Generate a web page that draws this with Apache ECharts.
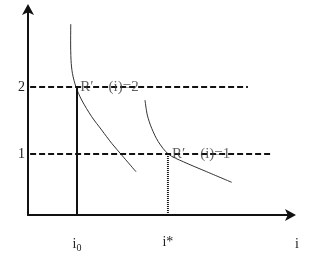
<!DOCTYPE html>
<html><head><meta charset="utf-8">
<script src="https://cdn.jsdelivr.net/npm/echarts@6/dist/echarts.min.js"></script>
<style>html,body{margin:0;padding:0;background:#fff}#c{width:322px;height:260px}</style>
</head><body><div id="c"></div>
<script>
// Data (arbitrary horizontal units i, vertical units R')
var i0 = 1.856;
var iStar = 5.30;
var yTickValues = [1, 2];
var curve1 = [[1.62,2.94],[1.615,2.70],[1.63,2.40],[1.685,2.20],[1.818,2.0],[2.034,1.806],[2.413,1.557],[2.792,1.358],[3.170,1.160],[3.549,0.985],[4.091,0.736]];
var curve2 = [[4.432,1.806],[4.519,1.582],[4.686,1.384],[4.936,1.184],[5.314,1.0],[5.883,0.885],[6.769,0.736],[7.716,0.578]];
var level2Line = [[0.08,2],[8.33,2]];
var level1Line = [[0.08,1],[9.17,1]];
var annotations = [
  {value:[1.98,2], text:'R\u2032    (i)=2'},
  {value:[5.45,1], text:'R\u2032    (i)=1'}
];
var xTickLabels = {};
xTickLabels[i0] = 'i{sub|0}';
xTickLabels[iStar] = 'i*';
var xMin = 0, xMax = 10, yMin = 0.09, yMax = 3.18;

var serif = '"Liberation Serif", "DejaVu Serif", serif';
var chart = echarts.init(document.getElementById('c'), null, {renderer:'canvas'});
chart.setOption({
  animation:false,
  backgroundColor:'#fff',
  grid:{left:28, right:30, top:8, bottom:45, containLabel:false},
  xAxis:{
    type:'value', min:xMin, max:xMax,
    splitLine:{show:false},
    axisLine:{onZero:false, lineStyle:{color:'#111', width:2}, symbol:['none','arrow'], symbolSize:[9,11], symbolOffset:[0,4]},
    axisTick:{show:false},
    name:'i', nameLocation:'end', nameGap:3,
    nameTextStyle:{fontFamily:serif, fontSize:14, color:'#222', verticalAlign:'top', padding:[22,0,0,0]},
    axisLabel:{
      customValues:[i0, iStar], margin:20,
      fontFamily:serif, fontSize:14, color:'#222',
      formatter:function(v){ for (var k in xTickLabels){ if (Math.abs(parseFloat(k)-v)<1e-6) return xTickLabels[k]; } return ''; },
      rich:{sub:{fontFamily:serif, fontSize:10, color:'#222', verticalAlign:'bottom', padding:[8,0,0,0]}}
    }
  },
  yAxis:{
    type:'value', min:yMin, max:yMax,
    splitLine:{show:false},
    axisLine:{onZero:false, lineStyle:{color:'#111', width:2}, symbol:['none','arrow'], symbolSize:[9,11], symbolOffset:[0,4]},
    axisTick:{show:false},
    axisLabel:{customValues:yTickValues, margin:3, fontFamily:serif, fontSize:14, color:'#222'}
  },
  series:[
    {type:'line', data:level2Line, symbol:'none', lineStyle:{color:'#111', width:2, type:[6,3]}, z:3},
    {type:'line', data:level1Line, symbol:'none', lineStyle:{color:'#111', width:2, type:[6,3]}, z:3},
    {type:'line', data:[[i0,2],[i0,yMin]], symbol:'none', lineStyle:{color:'#111', width:2}, z:3},
    {type:'line', data:[[iStar,1],[iStar,yMin]], symbol:'none', lineStyle:{color:'#111', width:2, type:[1,1]}, z:3},
    {type:'line', data:curve1, symbol:'none', smooth:0.3, lineStyle:{color:'#333', width:1}, z:2},
    {type:'line', data:curve2, symbol:'none', smooth:0.3, lineStyle:{color:'#333', width:1}, z:2},
    {type:'scatter', symbolSize:0, z:4,
     data:annotations.map(function(a){return {value:a.value, label:{formatter:a.text}};}),
     label:{show:true, position:'right', distance:0, fontFamily:serif, fontSize:15, color:'#3a3a3a'}}
  ]
});
</script></body></html>
